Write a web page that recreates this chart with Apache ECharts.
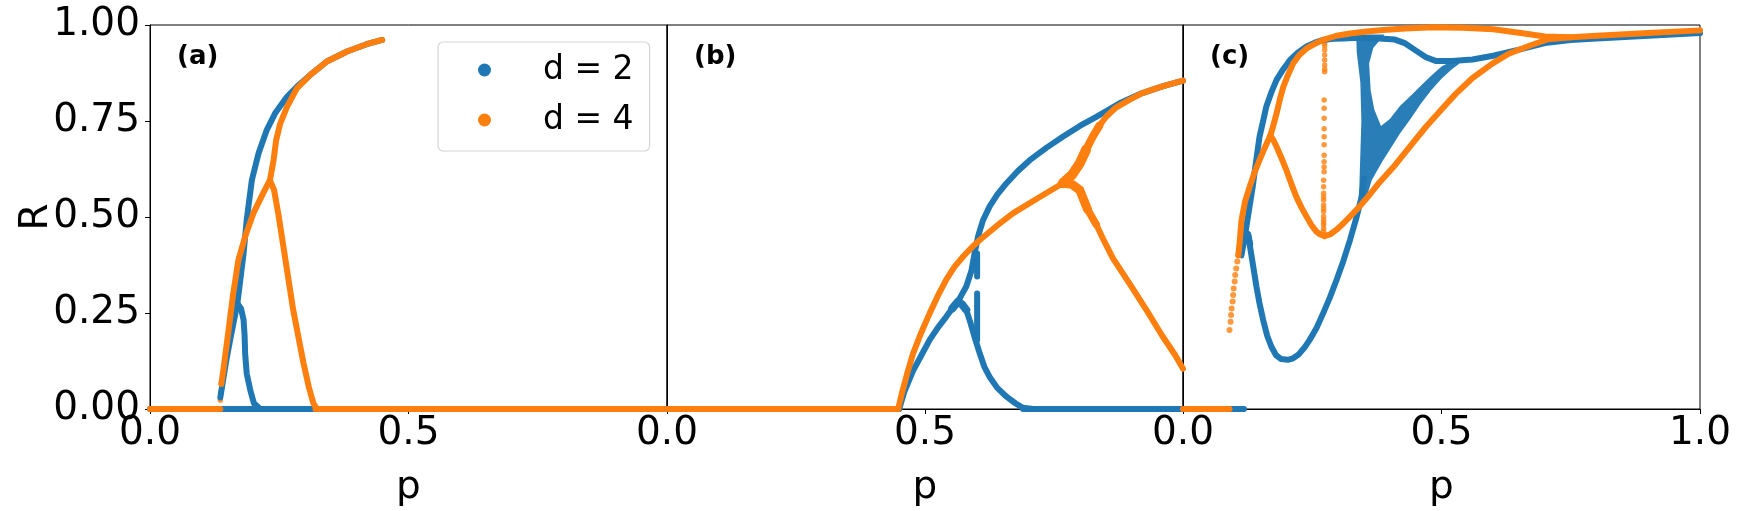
<!DOCTYPE html>
<html><head><meta charset="utf-8">
<script src="https://cdn.jsdelivr.net/npm/echarts@6/dist/echarts.min.js"></script>
<style>html,body{margin:0;padding:0;background:#fff}#c{width:1740px;height:511px}</style>
</head><body><div id="c"></div>
<script>
// ---------------- data (p, R) ----------------
const seriesNames = ['d = 2', 'd = 4'];
const panelLabels = ['(a)', '(b)', '(c)'];
const xTickValues = [0, 0.5, 1.0];
const yTickValues = [0, 0.25, 0.5, 0.75, 1.0];

// panel (a)
const a_d2_zero = [[0, 0], [1, 0]];
const a_d2_rise = [[0.136,0.03],[0.142,0.08],[0.148,0.13],[0.155,0.18],[0.161,0.22],[0.169,0.275]];
const a_d2_down = [[0.169,0.275],[0.176,0.262],[0.181,0.232],[0.183,0.19],[0.184,0.145],[0.187,0.093],[0.194,0.049],[0.201,0.015],[0.213,0.0]];
const a_d2_up = [[0.169,0.275],[0.175,0.34],[0.181,0.405],[0.187,0.492],[0.197,0.596],[0.21,0.666],[0.226,0.727],[0.242,0.77],[0.265,0.813],[0.284,0.839],[0.31,0.87],[0.342,0.905],[0.381,0.931],[0.419,0.95],[0.449,0.961]];
const a_d4_zeroL = [[0, 0], [0.136, 0]];
const a_d4_zeroR = [[0.32, 0], [1, 0]];
const a_d4_dots = [[0.135,0.0],[0.136,0.023],[0.137,0.045],[0.138,0.065]];
const a_d4_rise = [[0.138,0.065],[0.142,0.102],[0.152,0.206],[0.161,0.301],[0.171,0.388],[0.184,0.449],[0.2,0.51],[0.219,0.562],[0.232,0.596]];
const a_d4_up = [[0.232,0.596],[0.239,0.648],[0.244,0.7],[0.252,0.744],[0.265,0.787],[0.284,0.835],[0.31,0.87],[0.342,0.905],[0.381,0.931],[0.419,0.95],[0.449,0.961]];
const a_d4_down = [[0.232,0.596],[0.24,0.57],[0.248,0.51],[0.258,0.423],[0.268,0.336],[0.277,0.258],[0.287,0.188],[0.297,0.119],[0.307,0.058],[0.316,0.015],[0.323,0.0]];

// panel (b)
const b_d2_zeroL = [[0, 0], [0.45, 0]];
const b_d2_zeroR = [[0.69, 0], [1, 0]];
const b_d2_rise = [[0.45,0.0],[0.46,0.045],[0.477,0.10],[0.493,0.14],[0.509,0.18],[0.525,0.212],[0.541,0.24],[0.553,0.262],[0.564,0.28]];
const b_d2_down = [[0.564,0.28],[0.572,0.272],[0.58,0.258],[0.588,0.225],[0.596,0.188],[0.606,0.145],[0.615,0.11],[0.625,0.084],[0.64,0.055],[0.658,0.032],[0.675,0.015],[0.69,0.003],[0.71,0.0]];
const b_d2_knot = [[0.553,0.262],[0.564,0.28],[0.572,0.272],[0.58,0.258]];
const b_d2_up = [[0.564,0.28],[0.572,0.30],[0.58,0.319],[0.59,0.36],[0.596,0.405],[0.603,0.45],[0.612,0.49],[0.625,0.527],[0.64,0.558],[0.658,0.588],[0.68,0.62],[0.703,0.648],[0.735,0.68],[0.767,0.709],[0.8,0.737],[0.832,0.761],[0.877,0.796],[0.92,0.822],[0.96,0.84],[1.0,0.855]];
const b_d2_dash1 = [[0.601,0.405],[0.601,0.345]];
const b_d2_dash2 = [[0.601,0.301],[0.601,0.18]];
const b_d4_zero = [[0, 0], [0.448, 0]];
const b_d4_rise = [[0.448,0.0],[0.455,0.04],[0.465,0.09],[0.477,0.145],[0.493,0.2],[0.509,0.249],[0.525,0.295],[0.541,0.336],[0.557,0.37],[0.574,0.397],[0.59,0.42],[0.606,0.44],[0.64,0.478],[0.671,0.51],[0.72,0.55],[0.767,0.588]];
const b_d4_up = [[0.767,0.588],[0.785,0.61],[0.8,0.64],[0.812,0.675],[0.825,0.709],[0.838,0.738],[0.851,0.761],[0.87,0.785],[0.896,0.805],[0.92,0.822],[0.948,0.835],[0.975,0.846],[1.0,0.855]];
const b_d4_upFan = [[0.767,0.588],[0.785,0.61],[0.8,0.64],[0.812,0.675]];
const b_d4_upFan2 = [[0.812,0.675],[0.825,0.709],[0.838,0.738]];
const b_d4_down = [[0.767,0.588],[0.785,0.585],[0.8,0.57],[0.815,0.52],[0.832,0.48],[0.848,0.435],[0.864,0.393],[0.897,0.325],[0.929,0.258],[0.96,0.19],[0.985,0.14],[1.0,0.105]];
const b_d4_downFan = [[0.767,0.588],[0.785,0.585],[0.8,0.57],[0.815,0.52]];
const b_d4_downFan2 = [[0.815,0.52],[0.832,0.48]];

// panel (c)
const c_d2_zero = [[0, 0], [0.118, 0]];
const c_d2_hook = [[0.113,0.40],[0.117,0.43],[0.121,0.45],[0.126,0.455],[0.13,0.43]];
const c_d2_low = [[0.126,0.455],[0.13,0.42],[0.136,0.37],[0.142,0.319],[0.148,0.275],[0.155,0.232],[0.163,0.19],[0.171,0.162],[0.18,0.14],[0.19,0.13],[0.203,0.128],[0.213,0.132],[0.223,0.141],[0.235,0.16],[0.245,0.18],[0.258,0.21],[0.271,0.249],[0.284,0.29],[0.297,0.336],[0.31,0.385],[0.323,0.44],[0.336,0.501],[0.345,0.55],[0.35,0.6]];
const c_d2_up = [[0.117,0.43],[0.122,0.47],[0.129,0.53],[0.135,0.58],[0.139,0.622],[0.148,0.709],[0.155,0.75],[0.161,0.787],[0.171,0.825],[0.181,0.857],[0.194,0.885],[0.207,0.909],[0.222,0.928],[0.239,0.944],[0.255,0.954],[0.271,0.961],[0.29,0.964],[0.31,0.965],[0.33,0.966],[0.35,0.966],[0.38,0.965],[0.41,0.962],[0.43,0.952],[0.452,0.932],[0.47,0.916],[0.49,0.906],[0.52,0.906],[0.56,0.91],[0.6,0.92],[0.65,0.936],[0.7,0.953],[0.75,0.961],[0.8,0.965],[0.9,0.972],[1.0,0.979]];
const c_d2_fan = [[0.335,0.975],[0.39,0.975],[0.368,0.94],[0.36,0.9],[0.363,0.83],[0.37,0.78],[0.383,0.737],[0.40,0.755],[0.42,0.79],[0.44,0.815],[0.46,0.842],[0.48,0.868],[0.50,0.892],[0.52,0.906],[0.535,0.9],[0.52,0.885],[0.50,0.86],[0.48,0.83],[0.46,0.795],[0.44,0.755],[0.42,0.718],[0.40,0.675],[0.387,0.648],[0.375,0.62],[0.365,0.596],[0.357,0.56],[0.35,0.53],[0.34,0.53],[0.342,0.62],[0.345,0.75],[0.343,0.85],[0.336,0.93]];
const c_d4_zero = [[0, 0], [0.09, 0]];
const c_d4_dots = [[0.09,0.206],[0.092,0.227],[0.093,0.245],[0.094,0.262],[0.096,0.28],[0.097,0.297],[0.098,0.314],[0.1,0.332],[0.101,0.349],[0.103,0.366],[0.105,0.384],[0.107,0.401]];
const c_d4_rise = [[0.107,0.40],[0.11,0.44],[0.113,0.49],[0.12,0.54],[0.129,0.579],[0.138,0.615],[0.148,0.648],[0.158,0.68],[0.169,0.712]];
const c_d4_up = [[0.169,0.712],[0.175,0.74],[0.181,0.77],[0.188,0.81],[0.194,0.839],[0.203,0.87],[0.213,0.9],[0.225,0.922],[0.239,0.939],[0.255,0.951],[0.271,0.961],[0.297,0.972],[0.323,0.978],[0.355,0.983],[0.387,0.987],[0.43,0.991],[0.484,0.994],[0.54,0.993],[0.6,0.989],[0.65,0.98],[0.7,0.97],[0.75,0.968],[0.8,0.972],[0.9,0.979],[1.0,0.986]];
const c_d4_loop = [[0.169,0.712],[0.175,0.70],[0.181,0.683],[0.19,0.655],[0.2,0.622],[0.21,0.585],[0.219,0.553],[0.229,0.525],[0.239,0.501],[0.248,0.48],[0.258,0.462],[0.265,0.455],[0.274,0.45],[0.285,0.455],[0.297,0.467],[0.31,0.483],[0.323,0.501],[0.34,0.525],[0.356,0.55],[0.38,0.59],[0.41,0.635],[0.44,0.685],[0.47,0.735],[0.5,0.78],[0.527,0.82],[0.56,0.862],[0.599,0.9],[0.63,0.925],[0.67,0.946],[0.706,0.963],[0.75,0.968]];
const c_d4_vert = [[0.274,0.952],[0.274,0.945],[0.274,0.935],[0.274,0.922],[0.274,0.909],[0.274,0.896],[0.274,0.885],[0.274,0.878],[0.273,0.805],[0.273,0.783],[0.273,0.757],[0.273,0.73],[0.273,0.709],[0.273,0.688],[0.273,0.661],[0.273,0.644],[0.273,0.63],[0.273,0.618],[0.272,0.596],[0.272,0.579],[0.272,0.562],[0.272,0.552],[0.272,0.544],[0.272,0.531],[0.272,0.522],[0.272,0.514],[0.272,0.501],[0.272,0.492],[0.272,0.485],[0.272,0.479],[0.272,0.47],[0.272,0.462],[0.272,0.455]];

// ---------------- chart ----------------
const BLUE = '#1f77b4', ORANGE = '#ff7f0e';
const FONT = '"DejaVu Sans", sans-serif';
const LW = 6;
const TICK_FS = 39;

const gridBoxes = [{left:150, width:517}, {left:667, width:516}, {left:1183, width:517}];

function line(name, gi, data, color, width) {
  return {type:'line', name, xAxisIndex:gi, yAxisIndex:gi, data, showSymbol:false, symbol:'none',
    lineStyle:{color, width: width || LW, cap:'round', join:'round'}, itemStyle:{color},
    clip:true, silent:true, animation:false};
}
function dots(name, gi, data, color, size) {
  return {type:'scatter', name, xAxisIndex:gi, yAxisIndex:gi, data, symbol:'circle', symbolSize:size||5,
    itemStyle:{color}, clip:true, silent:true, animation:false};
}
function poly(name, gi, data, color) {
  return {type:'custom', name, xAxisIndex:gi, yAxisIndex:gi, data, clip:true, silent:true, animation:false,
    itemStyle:{color},
    renderItem:(params, api) => {
      if (params.dataIndex !== 0) return null;
      const pts = data.map(d => api.coord(d));
      return {type:'polygon', shape:{points:pts}, style:{fill:color, opacity:0.95}};
    }};
}

const N2 = seriesNames[0], N4 = seriesNames[1];
const series = [
  // panel a
  line(N2,0,a_d2_zero,BLUE), line(N2,0,a_d2_rise,BLUE), line(N2,0,a_d2_down,BLUE), line(N2,0,a_d2_up,BLUE),
  line(N4,0,a_d4_zeroL,ORANGE), line(N4,0,a_d4_zeroR,ORANGE), dots(N4,0,a_d4_dots,ORANGE,5.5), line(N4,0,a_d4_rise,ORANGE), line(N4,0,a_d4_up,ORANGE), line(N4,0,a_d4_down,ORANGE),
  // panel b
  line(N2,1,b_d2_zeroL,BLUE), line(N2,1,b_d2_zeroR,BLUE), line(N2,1,b_d2_rise,BLUE), line(N2,1,b_d2_down,BLUE), line(N2,1,b_d2_up,BLUE),
  line(N2,1,b_d2_knot,BLUE,8), line(N2,1,b_d2_dash1,BLUE), line(N2,1,b_d2_dash2,BLUE),
  line(N4,1,b_d4_zero,ORANGE), line(N4,1,b_d4_rise,ORANGE), line(N4,1,b_d4_up,ORANGE), line(N4,1,b_d4_down,ORANGE),
  line(N4,1,b_d4_upFan,ORANGE,10), line(N4,1,b_d4_upFan2,ORANGE,8), line(N4,1,b_d4_downFan,ORANGE,9), line(N4,1,b_d4_downFan2,ORANGE,7.5),
  // panel c
  line(N2,2,c_d2_zero,BLUE), line(N2,2,c_d2_hook,BLUE), line(N2,2,c_d2_low,BLUE), line(N2,2,c_d2_up,BLUE), poly(N2,2,c_d2_fan,BLUE),
  line(N4,2,c_d4_zero,ORANGE), dots(N4,2,c_d4_dots,ORANGE,6), line(N4,2,c_d4_rise,ORANGE), line(N4,2,c_d4_up,ORANGE), line(N4,2,c_d4_loop,ORANGE),
  dots(N4,2,c_d4_vert,ORANGE,5.5)
];

const grid = gridBoxes.map(g => ({left:g.left, width:g.width, top:25, height:384, show:true,
  borderColor:'#000', borderWidth:1, backgroundColor:'transparent', containLabel:false, outerBoundsMode:'none'}));

const xAxis = gridBoxes.map((g, i) => ({
  gridIndex:i, type:'value', min:xTickValues[0], max:xTickValues[2], interval:xTickValues[1]-xTickValues[0],
  axisLine:{show:true, onZero:false, lineStyle:{color:'#000', width:1}},
  axisTick:{show:true, length:5, inside:false, lineStyle:{color:'#000', width:1}},
  axisLabel:{show:true, fontSize:TICK_FS, color:'#000', fontFamily:FONT, margin:5,
    showMinLabel:true, showMaxLabel: i === 2, formatter: v => v.toFixed(1)},
  splitLine:{show:false},
  name:'p', nameLocation:'middle', nameGap:59, nameMoveOverlap:false,
  nameTextStyle:{fontSize:TICK_FS, color:'#000', fontFamily:FONT}
}));

const yAxis = gridBoxes.map((g, i) => ({
  gridIndex:i, type:'value', min:yTickValues[0], max:yTickValues[4], interval:yTickValues[1]-yTickValues[0],
  axisLine:{show:true, onZero:false, lineStyle:{color:'#000', width:1}},
  axisTick:{show: i === 0, length:5, lineStyle:{color:'#000', width:1}},
  axisLabel:{show: i === 0, fontSize:TICK_FS, color:'#000', fontFamily:FONT, margin:10, formatter: v => v.toFixed(2)},
  splitLine:{show:false},
  name: i === 0 ? 'R' : '', nameLocation:'middle', nameGap:94, nameRotate:90, nameMoveOverlap:false,
  nameTextStyle:{fontSize:TICK_FS, color:'#000', fontFamily:FONT}
}));

const graphic = gridBoxes.map((g, i) => ({
  type:'text', left: g.left + 27, top: 44, silent:true,
  style:{text: panelLabels[i], font:'bold 26px "DejaVu Sans", sans-serif', fill:'#000'}
}));

const chart = echarts.init(document.getElementById('c'), null, {renderer:'canvas'});
chart.setOption({
  animation:false,
  backgroundColor:'#fff',
  grid, xAxis, yAxis, series, graphic,
  legend:{show:true, orient:'vertical', left:438, top:42, data:seriesNames, icon:'circle',
    itemWidth:13, itemHeight:13, itemGap:12, padding:[9,16,12,40],
    borderColor:'#d6d6d6', borderWidth:1.2, borderRadius:5, backgroundColor:'#fff', selectedMode:false,
    textStyle:{fontSize:33, fontFamily:FONT, color:'#000', lineHeight:38, padding:[0,0,0,47]}},
  tooltip:{show:false}
});
</script></body></html>
